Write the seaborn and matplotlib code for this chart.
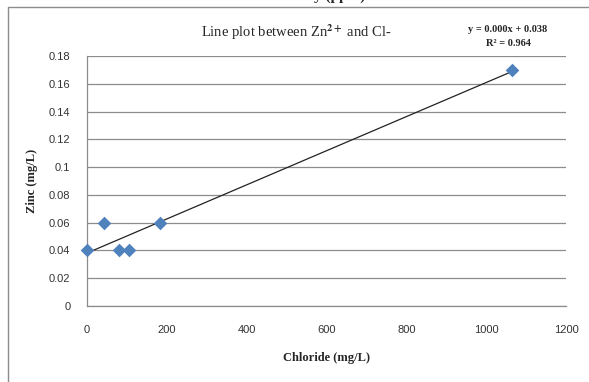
import matplotlib
matplotlib.use("Agg")
import matplotlib.pyplot as plt
import seaborn as sns
import pandas as pd
from matplotlib.lines import Line2D

# Data
chloride = [0, 43, 80, 105, 183, 1065]
zinc = [0.04, 0.06, 0.04, 0.04, 0.06, 0.17]
x_ticks = [0, 200, 400, 600, 800, 1000, 1200]
y_ticks = [0, 0.02, 0.04, 0.06, 0.08, 0.1, 0.12, 0.14, 0.16, 0.18]
y_tick_labels = ["0", "0.02", "0.04", "0.06", "0.08", "0.1", "0.12", "0.14", "0.16", "0.18"]

df = pd.DataFrame({"Chloride": chloride, "Zinc": zinc})

sns.set_style("white")
plt.rcParams["font.family"] = ["Liberation Sans", "DejaVu Sans"]
plt.rcParams["mathtext.fontset"] = "stix"

fig = plt.figure(figsize=(5.89, 3.82), dpi=100)
ax = fig.add_axes([87 / 589, 1 - 306 / 382, (566 - 87) / 589, (306 - 56) / 382])

sns.regplot(data=df, x="Chloride", y="Zinc", scatter=False, ci=None, ax=ax,
            line_kws=dict(color="#222222", lw=0.9), truncate=True)
sns.scatterplot(data=df, x="Chloride", y="Zinc", marker="D", s=48, color="#4F81BD",
                edgecolor="#4F81BD", linewidth=0, ax=ax, zorder=5, clip_on=False)

ax.set_xlim(0, 1200)
ax.set_ylim(0, 0.18)
ax.set_xticks(x_ticks)
ax.set_xticklabels([str(t) for t in x_ticks])
ax.set_yticks(y_ticks)
ax.set_yticklabels(y_tick_labels)
ax.yaxis.grid(True, color="#8c8c8c", lw=0.9)
ax.set_axisbelow(True)
for s in ["top", "right"]:
    ax.spines[s].set_visible(False)
for s in ["left", "bottom"]:
    ax.spines[s].set_color("#8c8c8c")
    ax.spines[s].set_linewidth(0.9)
ax.tick_params(axis="both", direction="out", length=4, width=0.9, color="#8c8c8c",
               labelsize=8, labelcolor="#333333", pad=8)
ax.tick_params(axis="x", pad=10)

ax.set_xlabel("Chloride (mg/L)", family="Liberation Serif", fontweight="bold", fontsize=9, labelpad=12)
ax.set_ylabel("Zinc (mg/L)", family="Liberation Serif", fontweight="bold", fontsize=9, labelpad=8)

fig.text(296 / 589, 1 - 32 / 382, r"Line plot between Zn$^{\mathbf{2+}}$ and Cl-",
         family="Liberation Serif", fontsize=10.5, ha="center", va="center")
fig.text(508 / 589, 1 - 29 / 382, "y = 0.000x + 0.038", family="Liberation Serif",
         fontweight="bold", fontsize=7.5, ha="center", va="center")
fig.text(508 / 589, 1 - 44 / 382, "R² = 0.964", family="Liberation Serif",
         fontweight="bold", fontsize=7.5, ha="center", va="center")

# partially cut-off heading at the top
fig.text(340 / 589, 1 + 4 / 382, "y (ppm)", family="Liberation Serif",
         fontweight="bold", fontsize=11, ha="center", va="center")

# outer chart frame
fig.add_artist(Line2D([8 / 589, 8 / 589, 1.0], [0.0, 1 - 7 / 382, 1 - 7 / 382],
                      transform=fig.transFigure, color="#8c8c8c", lw=1.0))

fig.savefig("out.png", dpi=100)
